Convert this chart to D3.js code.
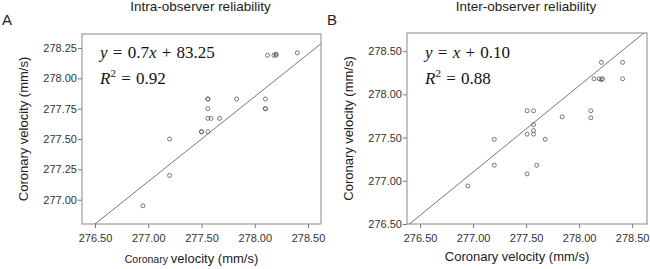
<!DOCTYPE html>
<html lang="en">

<head>
  <meta charset="UTF-8">
  <title>Reliability</title>
  <style>
    * {
      padding: 0;
      margin: 0;
    }

    body {
      background: #fff;
    }

    svg {
      display: block;
      font-family: "Liberation Sans", Arial, sans-serif;
    }

    .tick text {
      fill: #333;
      font-size: 11px;
    }

    .tick line {
      stroke: #777;
    }

    .eq {
      font-family: "Liberation Serif", "DejaVu Serif", serif;
      font-size: 17px;
      word-spacing: 1px;
      fill: #111;
    }
  </style>
</head>

<body>
  <svg id="svg"></svg>
  <script src="https://cdnjs.cloudflare.com/ajax/libs/d3/7.8.5/d3.min.js"></script>
  <script>
    // data
    const xTicks = [276.50, 277.00, 277.50, 278.00, 278.50]
    const yTicksIntra = [277.00, 277.25, 277.50, 277.75, 278.00, 278.25]
    const yTicksInter = [276.50, 277.00, 277.50, 278.00, 278.50]

    const intraX = [276.95, 277.20, 277.20, 277.50, 277.50, 277.56, 277.56, 277.59, 277.67, 277.56, 277.56, 277.56,
      277.83, 278.10, 278.10, 278.10, 278.12, 278.18, 278.20, 278.20, 278.40]
    const intraY = [276.95, 277.50, 277.20, 277.56, 277.56, 277.56, 277.67, 277.67, 277.67, 277.75, 277.83, 277.83,
      277.83, 277.83, 277.75, 277.75, 278.19, 278.19, 278.20, 278.19, 278.21]

    const interX = [276.95, 277.20, 277.20, 277.51, 277.51, 277.57, 277.57, 277.57, 277.60, 277.68, 277.51, 277.57,
      277.84, 278.11, 278.11, 278.14, 278.19, 278.21, 278.22, 278.21, 278.41, 278.41]
    const interY = [276.94, 277.48, 277.18, 277.08, 277.54, 277.54, 277.58, 277.65, 277.18, 277.48, 277.81, 277.81,
      277.74, 277.81, 277.73, 278.18, 278.18, 278.17, 278.18, 278.37, 278.37, 278.18]

    const intraFit = [0.7, 83.25]   // slope, intercept
    const interFit = [1, 0.10]

    const width = 650, height = 269

    const svg = d3.select('#svg')
      .attr('width', width)
      .attr('height', height)

    const panels = [
      {
        id: 'a', letter: 'A', title: 'Intra-observer reliability',
        xs: intraX, ys: intraY, fit: intraFit, yTicks: yTicksIntra,
        eq: ['0.7', '83.25'], r2: '0.92',
        left: 82, right: 321, top: 34, bottom: 224,
        xDomain: [276.378, 278.622], yDomain: [276.80, 278.365],
        offset: 0, smallCoronary: true
      },
      {
        id: 'b', letter: 'B', title: 'Inter-observer reliability',
        xs: interX, ys: interY, fit: interFit, yTicks: yTicksInter,
        eq: ['', '0.10'], r2: '0.88',
        left: 407, right: 647, top: 33, bottom: 224,
        xDomain: [276.377, 278.64], yDomain: [276.50, 278.71],
        offset: 325, smallCoronary: false
      }
    ]

    panels.forEach(p => {
      const x = d3.scaleLinear().domain(p.xDomain).range([p.left, p.right])
      const y = d3.scaleLinear().domain(p.yDomain).range([p.bottom, p.top])
      const g = svg.append('g').attr('id', 'panel-' + p.id)

      g.append('defs').append('clipPath')
        .attr('id', 'clip-' + p.id)
        .append('rect')
        .attr('x', p.left).attr('y', p.top)
        .attr('width', p.right - p.left).attr('height', p.bottom - p.top)

      // axes
      g.append('g')
        .attr('transform', `translate(${p.left},0)`)
        .call(d3.axisLeft(y).tickValues(p.yTicks).tickSize(4).tickPadding(1).tickFormat(d3.format('.2f')))
        .call(a => a.select('.domain').remove())

      g.append('g')
        .attr('transform', `translate(0,${p.bottom})`)
        .call(d3.axisBottom(x).tickValues(xTicks).tickSize(4).tickPadding(6).tickFormat(d3.format('.2f')))
        .call(a => a.select('.domain').remove())

      // frame
      g.append('rect')
        .attr('x', p.left).attr('y', p.top)
        .attr('width', p.right - p.left).attr('height', p.bottom - p.top)
        .attr('fill', 'none')
        .attr('stroke', '#888')

      // fit line
      const [m, c] = p.fit
      g.append('line')
        .attr('clip-path', `url(#clip-${p.id})`)
        .attr('x1', x(p.xDomain[0])).attr('y1', y(m * p.xDomain[0] + c))
        .attr('x2', x(p.xDomain[1])).attr('y2', y(m * p.xDomain[1] + c))
        .attr('stroke', '#666')
        .attr('stroke-width', 0.9)

      // points
      g.append('g')
        .selectAll('circle')
        .data(d3.range(p.xs.length))
        .join('circle')
        .attr('cx', i => x(p.xs[i]))
        .attr('cy', i => y(p.ys[i]))
        .attr('r', 2)
        .attr('fill', 'none')
        .attr('stroke', '#555')
        .attr('stroke-width', 0.8)

      // equation
      const eq = g.append('text').attr('class', 'eq')
        .attr('x', p.offset + 100).attr('y', 58)
      eq.append('tspan').attr('font-style', 'italic').text('y')
      eq.append('tspan').text(' = ' + p.eq[0])
      eq.append('tspan').attr('font-style', 'italic').text('x')
      eq.append('tspan').text(' + ' + p.eq[1])

      const r2 = g.append('text').attr('class', 'eq')
        .attr('x', p.offset + 100).attr('y', 84)
      r2.append('tspan').attr('font-style', 'italic').text('R')
      r2.append('tspan').attr('font-size', 11).attr('dy', -7).text('2')
      r2.append('tspan').attr('dy', 7).text(' = ' + p.r2)

      // titles and labels
      g.append('text')
        .attr('x', (p.left + p.right) / 2 - 1).attr('y', 11)
        .attr('text-anchor', 'middle')
        .attr('font-size', 13.5)
        .attr('fill', '#222')
        .text(p.title)

      g.append('text')
        .attr('x', p.offset + 2).attr('y', 25)
        .attr('font-size', 15)
        .attr('fill', '#222')
        .text(p.letter)

      g.append('text')
        .attr('transform', `translate(${p.offset + 28},${(p.top + p.bottom) / 2}) rotate(-90)`)
        .attr('text-anchor', 'middle')
        .attr('font-size', 13)
        .attr('fill', '#222')
        .text('Coronary velocity (mm/s)')

      const xl = g.append('text')
        .attr('x', (p.left + p.right) / 2 - 10).attr('y', p.smallCoronary ? 263 : 261)
        .attr('text-anchor', 'middle')
        .attr('font-size', 13)
        .attr('fill', '#222')
      xl.append('tspan').attr('font-size', p.smallCoronary ? 10.5 : 13).text('Coronary ')
      xl.append('tspan').text('velocity (mm/s)')
    })
  </script>
</body>

</html>
